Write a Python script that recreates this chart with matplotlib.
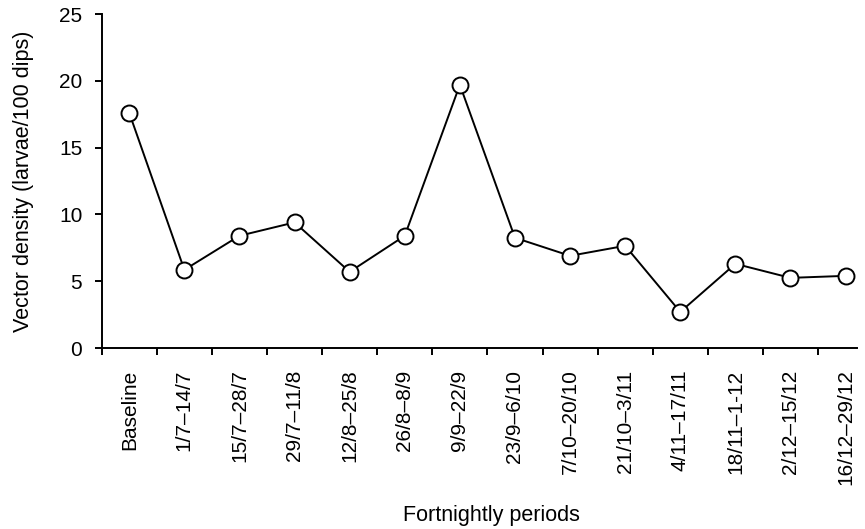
import matplotlib
matplotlib.use("Agg")
import matplotlib.pyplot as plt
import numpy as np

plt.rcParams['font.family'] = ['Liberation Sans', 'DejaVu Sans']

periods = ["Baseline", "1/7\u201314/7", "15/7\u201328/7", "29/7\u201311/8", "12/8\u201325/8",
           "26/8\u20138/9", "9/9\u201322/9", "23/9\u20136/10", "7/10\u201320/10", "21/10\u20133/11",
           "4/11\u201317/11", "18/11\u20131-12", "2/12\u201315/12", "16/12\u201329/12"]
density = [17.6, 5.85, 8.4, 9.4, 5.7, 8.4, 19.7, 8.25, 6.9, 7.65, 2.7, 6.3, 5.25, 5.4]
y_ticks = [0, 5, 10, 15, 20, 25]

fig = plt.figure(figsize=(8.65, 5.29), dpi=100)
ax = fig.add_axes([101.7/865, 1-348/529, (856.6-101.7)/865, (348-14)/529])

x = np.arange(len(periods))
ax.plot(x, density, color='black', lw=1.4, marker='o', ms=11.5, mfc='white',
        mec='black', mew=1.4, zorder=3, clip_on=False)

ax.set_xlim(-0.5, 13.2)
ax.set_ylim(0, 25)
ax.set_yticks(y_ticks)
ax.set_yticklabels([str(v) for v in y_ticks], fontsize=15)
ax.set_xticks(x - 0.5)
ax.set_xticklabels([''] * len(x))
ax.set_xticks(x, minor=True)
ax.set_xticklabels(periods, minor=True, rotation=90, fontsize=15)
ax.tick_params(axis='x', which='minor', length=0, pad=15.5)
ax.tick_params(axis='x', which='major', length=5, width=1.4, direction='out')
ax.tick_params(axis='y', length=5, width=1.4, direction='out', pad=9)

for s in ['top', 'right']:
    ax.spines[s].set_visible(False)
for s in ['left', 'bottom']:
    ax.spines[s].set_linewidth(1.4)

fig.text(491/865, 1-521/529, "Fortnightly periods", ha='center', va='baseline', fontsize=15.5)
fig.text(24/865, 1-181/529, "Vector density (larvae/100 dips)", ha='center', va='center',
         rotation=90, fontsize=15.5)

fig.savefig("out.png", dpi=100)
